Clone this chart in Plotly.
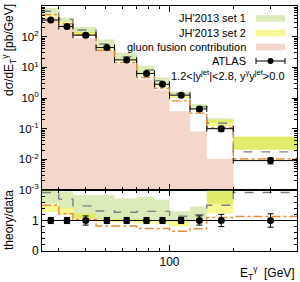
import math
import plotly.graph_objects as go

# ---------------- data ----------------
edges = [25, 30, 35, 45, 55, 70, 85, 100, 125, 150, 200, 400]
et_points = [27.5, 32.8, 40.2, 50.6, 62.8, 77.9, 92.7, 113.5, 138.4, 175.6, 300]
atlas = [350, 215, 112, 44, 17.5, 6.3, 2.8, 1.24, 0.44, 0.10, 0.0091]
atlas_relerr = [0.10, 0.10, 0.15, 0.10, 0.10, 0.10, 0.10, 0.10, 0.15, 0.20, 0.22]

# theory / data ratios
set1_ratio = [1.92, 1.70, 1.48, 1.31, 1.27, 1.30, 1.30, 1.14, 1.19, 1.50, 1.92]
set1_lo = [1.55, 1.40, 1.09, 1.05, 1.02, 1.00, 0.98, 1.02, 1.00, 1.55, 2.30]
set1_hi = [2.45, 1.95, 1.84, 1.84, 1.72, 1.78, 1.68, 1.30, 1.46, 2.20, 6.00]
set2_ratio = [1.50, 1.22, 1.04, 0.82, 0.82, 0.74, 0.74, 0.65, 0.73, 1.10, 1.13]
set2_lo = [1.28, 1.19, 1.00, 0.94, 0.94, 0.90, 0.90, 0.80, 0.97, 1.23, 2.25]
set2_hi = [1.52, 1.42, 1.24, 1.08, 1.06, 1.04, 1.00, 1.00, 1.02, 1.95, 6.10]

# gluon fusion contribution [pb/GeV] (last bin below the axis range)
gluon = [430, 250, 89, 34, 13, 4.0, 1.76, 0.37, 0.081, 0.0105, None]

x_tick_vals = [100]
x_tick_text = ["100"]
x_minor_vals = [30, 40, 50, 60, 70, 80, 90, 200, 300]
y_decades = [-3, -2, -1, 0, 1, 2, 3]

# ---------------- styles ----------------
GREEN = "rgba(137,191,22,0.30)"
YELLOW = "rgba(235,235,0,0.42)"
PINK = "#f5d6ca"
GRAY = "#7f7f7f"
ORANGE = "#e0903c"
FONT = "Liberation Sans, Arial, sans-serif"

W, H = 300, 282
ML, MR, MT, MB = 42, 3, 6, 31
PW, PH = W - ML - MR, H - MT - MB
split = (251 - 190) / PH


def px_x(p):
    return (p - ML) / PW


def px_y(p):
    return (H - MB - p) / PH


def rects(lo, hi):
    xs, ys = [], []
    for i in range(len(edges) - 1):
        if lo[i] is None or hi[i] is None:
            continue
        e0, e1 = edges[i], edges[i + 1]
        xs += [e0, e1, e1, e0, e0, None]
        ys += [lo[i], lo[i], hi[i], hi[i], lo[i], None]
    return xs, ys


def step(vals):
    return edges, list(vals) + [vals[-1]]


fig = go.Figure()

# --- top panel ---
gx, gy = rects([1e-4] * len(gluon), gluon)
fig.add_trace(go.Scatter(x=gx, y=gy, fill="toself", fillcolor=PINK, mode="lines",
                         line=dict(width=0), xaxis="x", yaxis="y", hoverinfo="skip"))

s1lo = [a * b for a, b in zip(set1_lo, atlas)]
s1hi = [a * b for a, b in zip(set1_hi, atlas)]
s2lo = [a * b for a, b in zip(set2_lo, atlas)]
s2hi = [a * b for a, b in zip(set2_hi, atlas)]
s1c = [a * b for a, b in zip(set1_ratio, atlas)]
s2c = [a * b for a, b in zip(set2_ratio, atlas)]

for lo, hi, col in [(s1lo, s1hi, GREEN), (s2lo, s2hi, YELLOW)]:
    bx, by = rects(lo, hi)
    fig.add_trace(go.Scatter(x=bx, y=by, fill="toself", fillcolor=col, mode="lines",
                             line=dict(width=0), xaxis="x", yaxis="y", hoverinfo="skip"))

for vals, col, dash in [(s1c, GRAY, "dash"), (s2c, ORANGE, "dashdot")]:
    sx, sy = step(vals)
    fig.add_trace(go.Scatter(x=sx, y=sy, mode="lines", line=dict(color=col, width=1.4, dash=dash, shape="hv"),
                             xaxis="x", yaxis="y"))

err_plus = [edges[i + 1] - et_points[i] for i in range(len(et_points))]
err_minus = [et_points[i] - edges[i] for i in range(len(et_points))]

fig.add_trace(go.Scatter(
    x=et_points, y=atlas, mode="markers", marker=dict(color="black", size=7),
    error_x=dict(type="data", symmetric=False, array=err_plus, arrayminus=err_minus,
                 color="black", thickness=1, width=3),
    error_y=dict(type="data", array=[a * r for a, r in zip(atlas, atlas_relerr)],
                 color="black", thickness=1, width=3),
    xaxis="x", yaxis="y"))

# --- ratio panel ---
for lo, hi, col in [(set1_lo, set1_hi, GREEN), (set2_lo, set2_hi, YELLOW)]:
    bx, by = rects(lo, hi)
    fig.add_trace(go.Scatter(x=bx, y=by, fill="toself", fillcolor=col, mode="lines",
                             line=dict(width=0), xaxis="x2", yaxis="y2", hoverinfo="skip"))

for vals, col, dash in [(set1_ratio, GRAY, "dash"), (set2_ratio, ORANGE, "dashdot")]:
    sx, sy = step(vals)
    fig.add_trace(go.Scatter(x=sx, y=sy, mode="lines", line=dict(color=col, width=1.4, dash=dash, shape="hv"),
                             xaxis="x2", yaxis="y2"))

fig.add_trace(go.Scatter(
    x=et_points, y=[1] * len(et_points), mode="markers", marker=dict(color="black", size=7),
    error_x=dict(type="data", symmetric=False, array=err_plus, arrayminus=err_minus,
                 color="black", thickness=1, width=0),
    error_y=dict(type="data", array=atlas_relerr, color="black", thickness=1, width=3),
    xaxis="x2", yaxis="y2"))

axis_common = dict(showline=True, linecolor="black", linewidth=1, mirror="ticks", ticks="inside",
                   tickcolor="black", showgrid=False, zeroline=False,
                   tickfont=dict(family=FONT, size=12, color="black"))

xr = [math.log10(edges[0]), math.log10(edges[-1])]
xminor = dict(tickmode="array", tickvals=x_minor_vals, ticks="inside", ticklen=3, tickcolor="black")

fig.update_layout(
    width=W, height=H, margin=dict(l=ML, r=MR, t=MT, b=MB),
    paper_bgcolor="white", plot_bgcolor="white", showlegend=False,
    font=dict(family=FONT, size=12, color="black"),
    xaxis=dict(axis_common, type="log", range=xr, domain=[0, 1], anchor="y", matches="x2",
               tickvals=x_tick_vals, ticktext=x_tick_text, showticklabels=False, ticklen=6, minor=xminor),
    yaxis=dict(axis_common, type="log", range=[-3, 3], domain=[split, 1], anchor="x",
               tickvals=[10 ** d for d in y_decades],
               ticktext=["10<sup>%d</sup>" % d for d in y_decades], ticklen=5,
               tickfont=dict(family=FONT, size=11.5, color="black"),
               minor=dict(tickmode="array",
                          tickvals=[m * 10 ** d for d in y_decades[:-1] for m in range(2, 10)],
                          ticks="inside", ticklen=3, tickcolor="black")),
    xaxis2=dict(axis_common, type="log", range=xr, domain=[0, 1], anchor="y2",
                tickvals=x_tick_vals, ticktext=x_tick_text, ticklen=6, minor=xminor),
    yaxis2=dict(axis_common, range=[0, 2], domain=[0, split], anchor="x2",
                tickvals=[0, 1, 2], ticktext=["0", "1", ""], ticklen=5,
                minor=dict(tickmode="array", tickvals=[0.2, 0.4, 0.6, 0.8, 1.2, 1.4, 1.6, 1.8],
                           ticks="inside", ticklen=3, tickcolor="black")),
)

shapes = [dict(type="line", xref="x2 domain", yref="y2", x0=0, x1=1, y0=1, y1=1,
               line=dict(color="black", width=1))]
annotations = []

# axis titles
annotations.append(dict(text="dσ/dE<sub>T</sub><sup>γ</sup> [pb/GeV]", x=px_x(9), y=px_y(50),
                        xref="paper", yref="paper", textangle=-90, showarrow=False,
                        font=dict(size=12), xanchor="center", yanchor="middle"))
annotations.append(dict(text="theory/data", x=px_x(9), y=px_y(220), xref="paper", yref="paper",
                        textangle=-90, showarrow=False, font=dict(size=12),
                        xanchor="center", yanchor="middle"))
annotations.append(dict(text="E<sub>T</sub><sup>γ</sup>  [GeV]", x=px_x(297), y=px_y(272.5),
                        xref="paper", yref="paper", showarrow=False, font=dict(size=12),
                        xanchor="right", yanchor="middle"))

# legend (drawn manually: text left of symbol)
leg_items = [("JH'2013 set 1", GREEN, 18.5), ("JH'2013 set 2", YELLOW, 33), ("gluon fusion contribution", PINK, 47)]
for label, col, yp in leg_items:
    annotations.append(dict(text=label, x=px_x(248), y=px_y(yp), xref="paper", yref="paper",
                            showarrow=False, xanchor="right", yanchor="middle", font=dict(size=11)))
    shapes.append(dict(type="rect", xref="paper", yref="paper", x0=px_x(256), x1=px_x(285),
                       y0=px_y(yp + 3.3), y1=px_y(yp - 3.3), fillcolor=col, line=dict(width=0)))
yA = 61
annotations.append(dict(text="ATLAS", x=px_x(248), y=px_y(yA), xref="paper", yref="paper",
                        showarrow=False, xanchor="right", yanchor="middle", font=dict(size=11)))
shapes.append(dict(type="line", xref="paper", yref="paper", x0=px_x(256), x1=px_x(285),
                   y0=px_y(yA), y1=px_y(yA), line=dict(color="black", width=1)))
for xp in (256, 285):
    shapes.append(dict(type="line", xref="paper", yref="paper", x0=px_x(xp), x1=px_x(xp),
                       y0=px_y(yA - 3), y1=px_y(yA + 3), line=dict(color="black", width=1)))
shapes.append(dict(type="circle", xref="paper", yref="paper", x0=px_x(267.5), x1=px_x(273.5),
                   y0=px_y(yA + 3), y1=px_y(yA - 3), fillcolor="black", line=dict(color="black", width=0)))
annotations.append(dict(text="1.2<|y<sup>jet</sup>|<2.8, y<sup>γ</sup>y<sup>jet</sup>>0.0",
                        x=px_x(287), y=px_y(75), xref="paper", yref="paper", showarrow=False,
                        xanchor="right", yanchor="middle", font=dict(size=11)))

fig.update_layout(shapes=shapes, annotations=annotations)
fig.write_html("out.html", config={"displayModeBar": False},
               post_script="document.body.style.margin='0';document.body.style.overflow='hidden';")
